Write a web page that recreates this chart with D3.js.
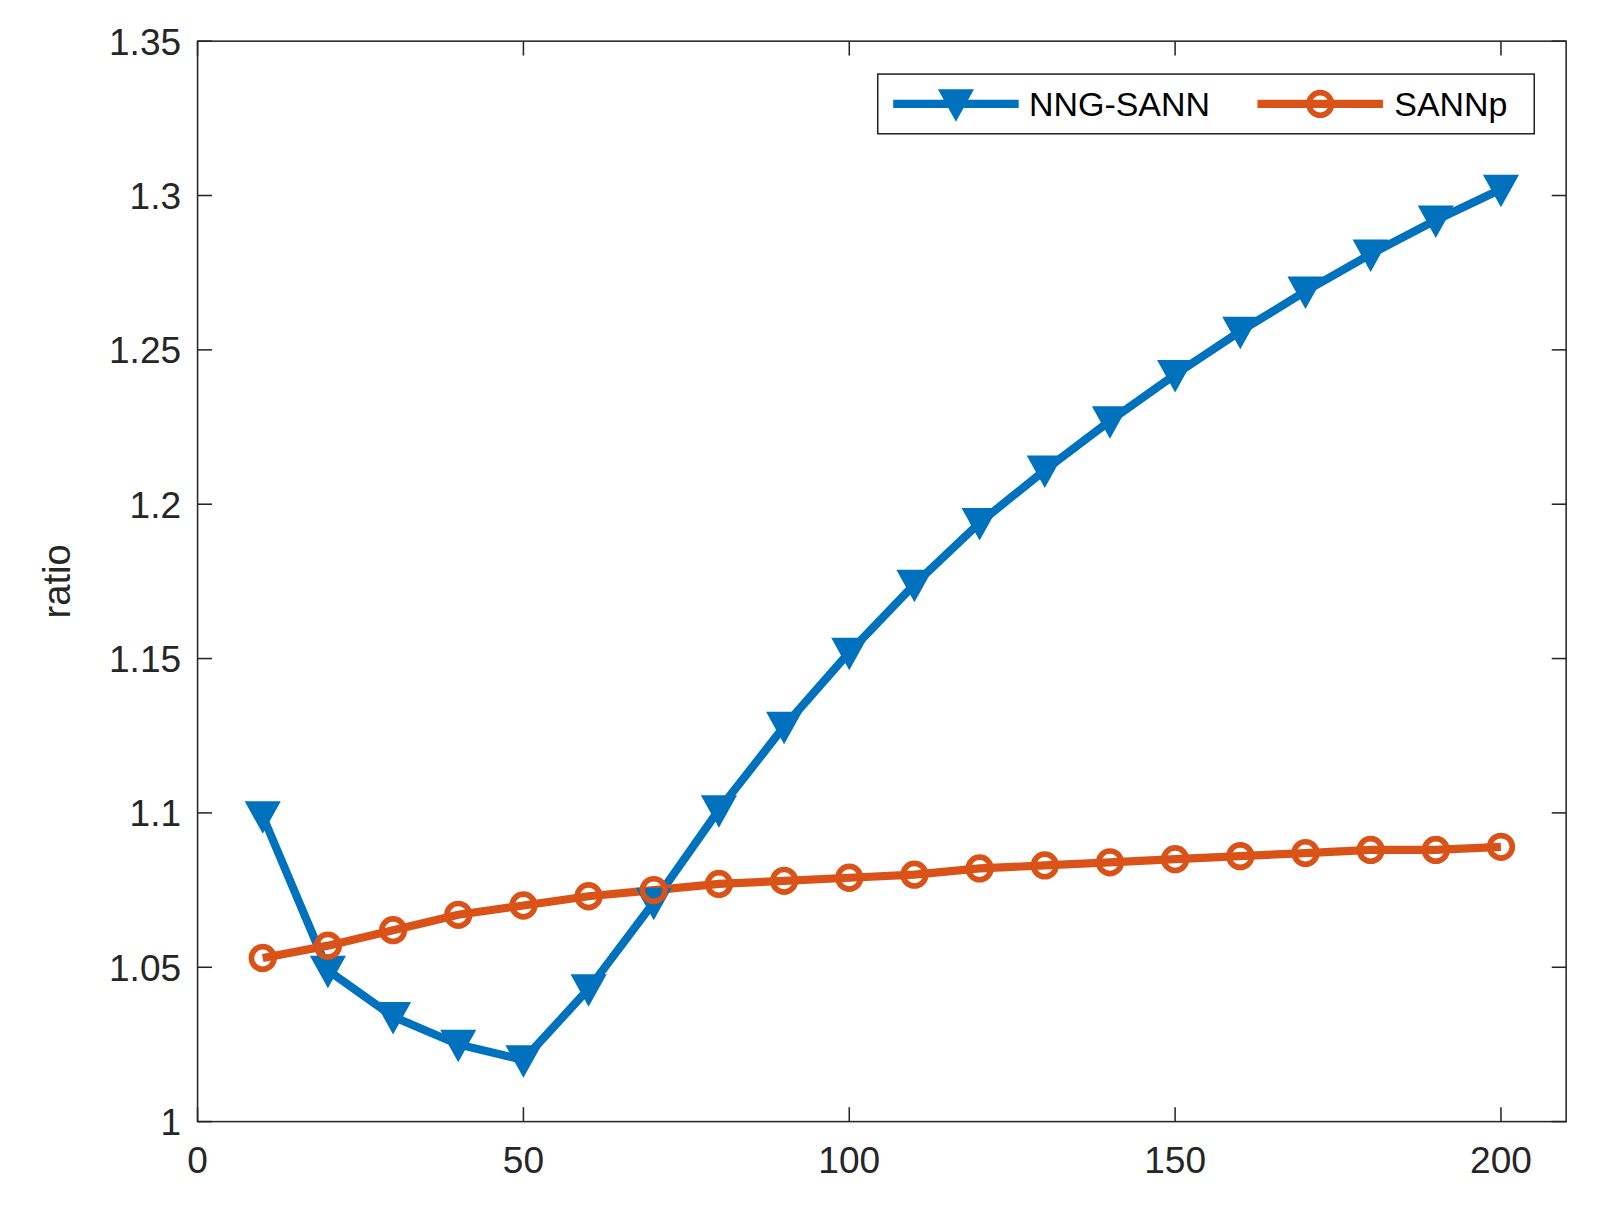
<!DOCTYPE html>
<html><head><meta charset="utf-8">
<script src="https://cdn.jsdelivr.net/npm/d3@7"></script>
<style>body{margin:0;background:#fff}</style></head>
<body><svg id="c" width="1611" height="1222"></svg>
<script>
const xs=[10,20,30,40,50,60,70,80,90,100,110,120,130,140,150,160,170,180,190,200];
const nng=[1.099,1.049,1.034,1.025,1.020,1.043,1.071,1.101,1.128,1.152,1.174,1.194,1.211,1.227,1.242,1.256,1.269,1.281,1.292,1.302];
const sannp=[1.053,1.057,1.062,1.067,1.070,1.073,1.075,1.077,1.078,1.079,1.080,1.082,1.083,1.084,1.085,1.086,1.087,1.088,1.088,1.089];
const xTicks=[0,50,100,150,200];
const yTicks=[1,1.05,1.1,1.15,1.2,1.25,1.3,1.35];
const svg=d3.select("#c").append("g").attr("transform","scale(1.029)");
const L=192,R=1522,T=40,B=1090;
const x=d3.scaleLinear().domain([0,210]).range([L,R]);
const y=d3.scaleLinear().domain([1,1.35]).range([B,T]);
const font="'Liberation Sans',Arial,sans-serif";
svg.append("rect").attr("x",L).attr("y",T).attr("width",R-L).attr("height",B-T).attr("fill","none").attr("stroke","#262626").attr("stroke-width",1.5);
const tl=14;
xTicks.forEach(t=>{
 svg.append("line").attr("x1",x(t)).attr("x2",x(t)).attr("y1",B).attr("y2",B-tl).attr("stroke","#262626").attr("stroke-width",1.5);
 svg.append("line").attr("x1",x(t)).attr("x2",x(t)).attr("y1",T).attr("y2",T+tl).attr("stroke","#262626").attr("stroke-width",1.5);
 svg.append("text").attr("x",x(t)).attr("y",B+50).attr("text-anchor","middle").attr("font-family",font).attr("font-size",36).attr("fill","#262626").text(t);
});
yTicks.forEach(t=>{
 svg.append("line").attr("x1",L).attr("x2",L+tl).attr("y1",y(t)).attr("y2",y(t)).attr("stroke","#262626").attr("stroke-width",1.5);
 svg.append("line").attr("x1",R).attr("x2",R-tl).attr("y1",y(t)).attr("y2",y(t)).attr("stroke","#262626").attr("stroke-width",1.5);
 svg.append("text").attr("x",L-16).attr("y",y(t)+13).attr("text-anchor","end").attr("font-family",font).attr("font-size",36).attr("fill","#262626").text(t);
});
svg.append("text").attr("transform",`translate(68,${(T+B)/2}) rotate(-90)`).attr("text-anchor","middle").attr("font-family",font).attr("font-size",37).attr("fill","#262626").text("ratio");
const line=d3.line().x(d=>x(d[0])).y(d=>y(d[1]));
const blue="#0072BD",orange="#D95319";
svg.append("path").datum(xs.map((v,i)=>[v,nng[i]])).attr("d",line).attr("fill","none").attr("stroke",blue).attr("stroke-width",8);
svg.append("path").datum(xs.map((v,i)=>[v,sannp[i]])).attr("d",line).attr("fill","none").attr("stroke",orange).attr("stroke-width",8);
const tri=(cx,cy,s)=>`M${cx-s},${cy-s*0.85}L${cx+s},${cy-s*0.85}L${cx},${cy+s*0.95}Z`;
xs.forEach((v,i)=>{
 svg.append("path").attr("d",tri(x(v),y(nng[i]),15)).attr("fill",blue).attr("stroke",blue).attr("stroke-width",3);
});
xs.forEach((v,i)=>{
 svg.append("circle").attr("cx",x(v)).attr("cy",y(sannp[i])).attr("r",11).attr("fill","none").attr("stroke",orange).attr("stroke-width",5.5);
});
const g=svg.append("g");
g.append("rect").attr("x",853).attr("y",72).attr("width",638).attr("height",58).attr("fill","#fff").attr("stroke","#262626").attr("stroke-width",1.5);
g.append("line").attr("x1",868).attr("x2",990).attr("y1",101).attr("y2",101).attr("stroke",blue).attr("stroke-width",8);
g.append("path").attr("d",tri(929,101,15)).attr("fill",blue).attr("stroke",blue).attr("stroke-width",3);
g.append("text").attr("x",1000).attr("y",113).attr("font-family",font).attr("font-size",33).attr("fill","#000").text("NNG-SANN");
g.append("line").attr("x1",1222).attr("x2",1344).attr("y1",101).attr("y2",101).attr("stroke",orange).attr("stroke-width",8);
g.append("circle").attr("cx",1283).attr("cy",101).attr("r",11).attr("fill","none").attr("stroke",orange).attr("stroke-width",5.5);
g.append("text").attr("x",1355).attr("y",113).attr("font-family",font).attr("font-size",33).attr("fill","#000").text("SANNp");
</script></body></html>
